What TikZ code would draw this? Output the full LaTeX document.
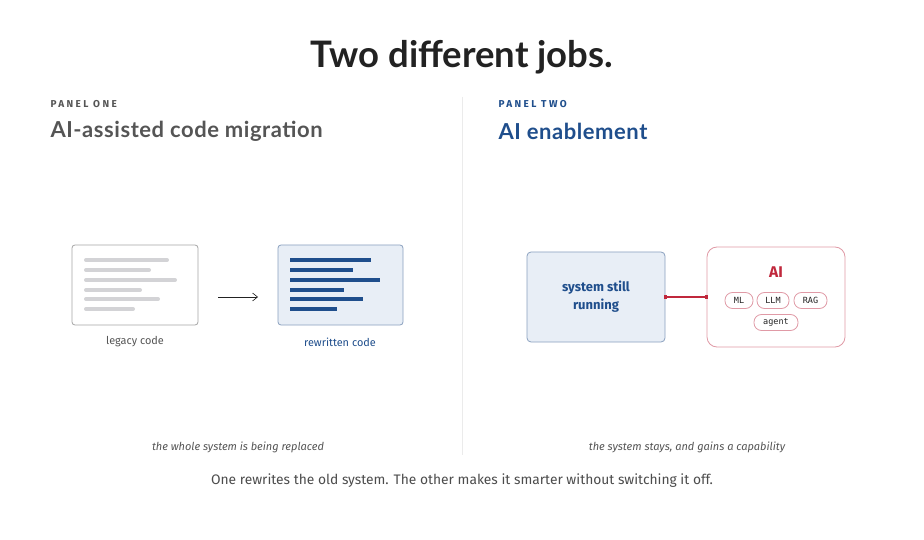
\documentclass[tikz,border=0pt]{standalone}
\usepackage{fontspec}
\setmainfont{Lato}
\newfontfamily\bodyfont{Fira Sans}
\newfontfamily\monofont{DejaVu Sans Mono}
\usetikzlibrary{arrows.meta,calc}
\definecolor{ink}{HTML}{222222}
\definecolor{greytext}{HTML}{555555}
\definecolor{navy}{HTML}{1F4E8C}
\definecolor{paleblue}{HTML}{E8EEF6}
\definecolor{blueedge}{HTML}{8AA0BF}
\definecolor{crimson}{HTML}{C0283C}
\definecolor{pinkedge}{HTML}{E09AA6}
\definecolor{codegrey}{HTML}{D3D3D6}
\begin{document}
\begin{tikzpicture}[x=1pt,y=-1pt,
  kicker/.style={anchor=west,font=\bodyfont\fontsize{10}{11}\selectfont\bfseries\addfontfeatures{LetterSpace=24}},
  paneltitle/.style={anchor=west,font=\fontsize{22}{26}\selectfont\bfseries\addfontfeatures{LetterSpace=2.5}},
  caption/.style={font=\bodyfont\fontsize{11}{13}\selectfont\itshape,text=greytext},
  boxlabel/.style={font=\bodyfont\fontsize{10.9}{13}\selectfont},
  codeline/.style={line width=4pt,line cap=round},
  pill/.style={draw=pinkedge,line width=0.8pt,rounded corners=7.5pt,fill=white,inner sep=0pt,minimum height=16pt,font=\monofont\fontsize{8.5}{9}\selectfont,text=ink}
]
\useasboundingbox[fill=white] (0,0) rectangle (924,540);
% title
\node[font=\fontsize{36.5}{42}\selectfont\bfseries,text=ink] (title) at (462,57) {Two different jobs.};
% divider
\draw[draw=black!8,line width=0.8pt] (462,97) -- (462,455);
% panel headers
\node[kicker,text=greytext] (k1) at (47,104) {PANEL ONE};
\node[paneltitle,text=greytext] (t1) at (47,131) {AI-assisted code migration};
\node[kicker,text=navy] (k2) at (495,104) {PANEL TWO};
\node[paneltitle,text=navy] (t2) at (495,131) {AI enablement};
% legacy box
\draw[draw=black!35,line width=0.8pt,rounded corners=3pt,fill=white] (72,245) rectangle (198,325);
\foreach \y/\e in {260/167,270/149,280/175,290/140,299/158,309/133}
  \draw[codeline,draw=codegrey] (86,\y) -- (\e,\y);
\node[boxlabel,text=greytext] (leglbl) at (135,342) {legacy code};
% rewritten box
\draw[draw=blueedge,line width=0.8pt,rounded corners=3pt,fill=paleblue] (278,245) rectangle (403,325);
\foreach \y/\e in {260/371,270/353,280/380,290/344,299/363,309/337}
  \draw[codeline,draw=navy,line cap=butt] (290,\y) -- (\e,\y);
\node[boxlabel,text=navy] (rewlbl) at (340,342) {rewritten code};
% arrow
\coordinate (a1) at (218,297);
\coordinate (a2) at (258,297);
\draw[draw=ink,line width=0.6pt,-{Straight Barb[length=5pt,width=8pt]}] (a1) -- (a2);
% system box
\node[draw=blueedge,line width=0.8pt,rounded corners=4pt,fill=paleblue,minimum width=138pt,minimum height=90pt,align=center,text=navy,font=\bodyfont\fontsize{13}{18}\selectfont\bfseries] (sys) at (596,297) {system still\\running};
% AI box
\node[draw=pinkedge,line width=0.8pt,rounded corners=10pt,fill=white,minimum width=138pt,minimum height=100pt] (ai) at (776,297) {};
\node[font=\bodyfont\fontsize{15.5}{18}\selectfont\bfseries,text=crimson] (ailbl) at (776,272) {AI};
\node[pill,minimum width=28pt] (ml) at (739,300.5) {ML};
\node[pill,minimum width=32pt] (llm) at (773,300.5) {LLM};
\node[pill,minimum width=33pt] (rag) at (810.5,300.5) {RAG};
\node[pill,minimum width=44pt] (agent) at (776,322.5) {agent};
% connector
\draw[draw=crimson,line width=1.2pt] (sys.east) -- (ai.west);
\fill[crimson] ($(sys.east)+(-1.7,-1.7)$) rectangle ++(3.4,3.4);
\fill[crimson] ($(ai.west)+(-1.7,-1.7)$) rectangle ++(3.4,3.4);
% captions
\node[caption] (c1) at (238,447) {the whole system is being replaced};
\node[caption] (c2) at (687,447) {the system stays, and gains a capability};
\node[font=\bodyfont\fontsize{13.8}{16}\selectfont,text=black!70] (foot) at (462,481) {One rewrites the old system. The other makes it smarter without switching it off.};
\end{tikzpicture}
\end{document}
